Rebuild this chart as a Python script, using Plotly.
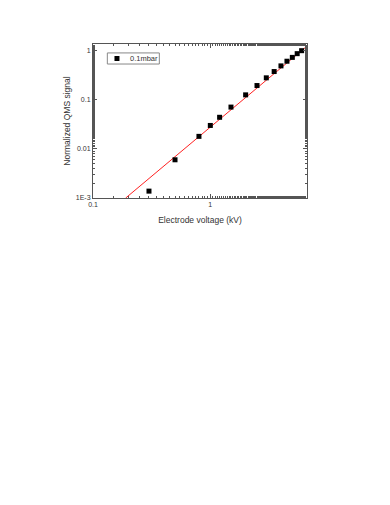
import plotly.graph_objects as go

# QMS signal vs electrode voltage at 0.1 mbar
voltage_kv = [0.3, 0.5, 0.8, 1.0, 1.2, 1.5, 2.0, 2.5, 3.0, 3.5, 4.0, 4.5, 5.0, 5.5, 6.0]
signal = [0.00138, 0.006, 0.018, 0.030, 0.044, 0.071, 0.126, 0.195,
          0.28, 0.376, 0.49, 0.61, 0.73, 0.87, 1.0]

# fitted power-law line (straight in log-log), endpoints
fit_x = [0.19, 6.7]
fit_y = [0.001, 1.25]

x_tickvals = [0.1, 1]
x_ticktext = ["0.1", "1"]
y_tickvals = [0.001, 0.01, 0.1, 1]
y_ticktext = ["1E-3", "0.01", "0.1", "1"]

SERIES_LABEL = "0.1mbar"
FONT = "Liberation Sans, Arial, sans-serif"
AXIS = "#555"
TEXT = "#333"

fig = go.Figure()
fig.add_scatter(
    x=fit_x, y=fit_y, mode="lines", showlegend=False,
    line=dict(color="#ff2020", width=1),
)
fig.add_scatter(
    x=voltage_kv, y=signal, mode="markers", name=SERIES_LABEL,
    showlegend=False,
    marker=dict(symbol="square", size=5, color="black"),
)

axis_common = dict(
    type="log", showgrid=False, zeroline=False, showline=True,
    linecolor=AXIS, linewidth=1, mirror="ticks", ticks="inside",
    ticklen=4, tickwidth=1, tickcolor=AXIS,
    tickfont=dict(family=FONT, size=7, color=TEXT),
    minor=dict(ticks="inside", ticklen=2, tickwidth=1, tickcolor=AXIS,
               showgrid=False),
)

fig.update_xaxes(
    **axis_common, range=[-1, 0.824],
    tickvals=x_tickvals, ticktext=x_ticktext,
    title=dict(text="Electrode voltage (kV)", standoff=9,
               font=dict(family=FONT, size=8.5, color=TEXT)),
)
fig.update_yaxes(
    **axis_common, range=[-3, 0.136],
    tickvals=y_tickvals, ticktext=y_ticktext,
    title=dict(text="Normalized QMS signal", standoff=3,
               font=dict(family=FONT, size=8.5, color=TEXT)),
)

# small framed legend, drawn by hand (plotly's own legend is too tall)
fig.add_shape(type="rect", xref="paper", yref="paper",
              x0=0.067, x1=0.31, y0=0.870, y1=0.942,
              line=dict(color="#888", width=1), fillcolor="white")
fig.add_shape(type="rect", xref="paper", yref="paper",
              xsizemode="pixel", ysizemode="pixel",
              xanchor=0.112, yanchor=0.906, x0=-2.5, x1=2.5, y0=-2.5, y1=2.5,
              line=dict(width=0), fillcolor="black")
fig.add_annotation(xref="paper", yref="paper", x=0.162, y=0.906,
                   text=SERIES_LABEL, showarrow=False,
                   xanchor="left", yanchor="middle",
                   font=dict(family=FONT, size=7.5, color=TEXT))

fig.update_layout(
    width=390, height=505,
    margin=dict(l=85, r=91, t=36, b=315),
    paper_bgcolor="white", plot_bgcolor="white",
    showlegend=False,
)

fig.write_html("out.html")
